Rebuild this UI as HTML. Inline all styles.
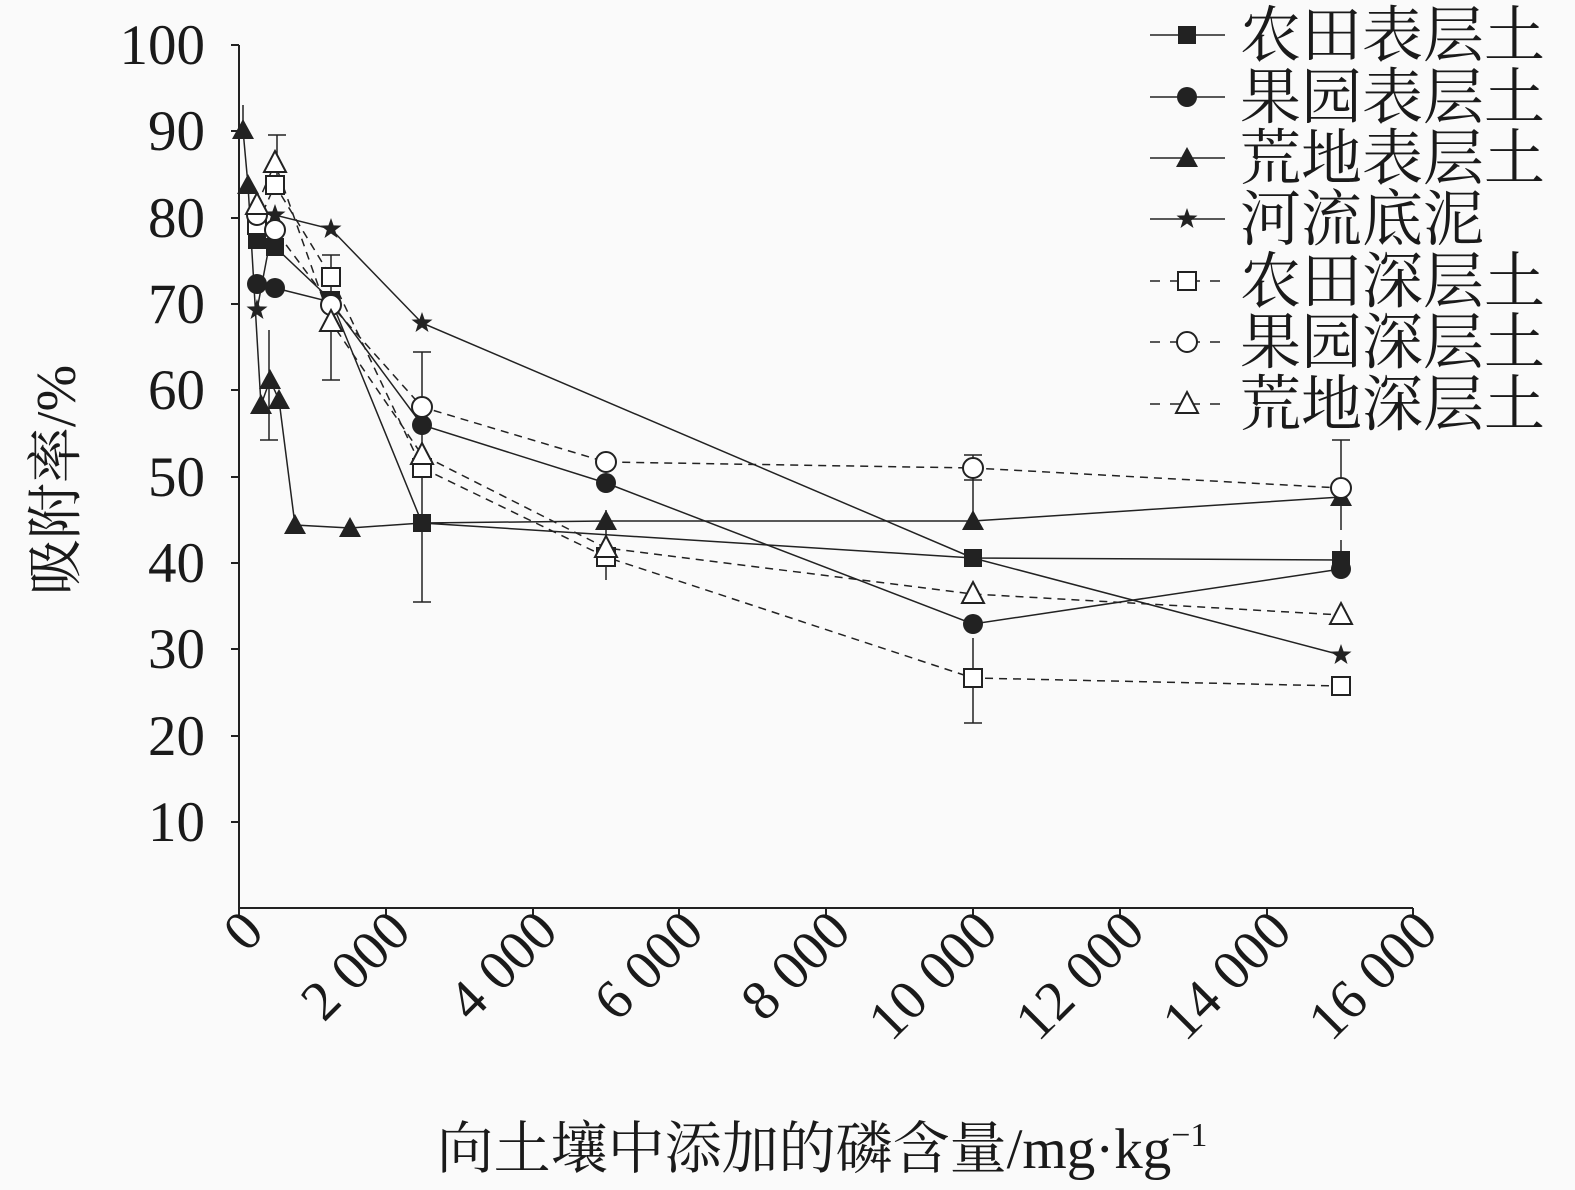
<!DOCTYPE html>
<html><head><meta charset="utf-8"><style>body{margin:0;background:#fafafa}svg{display:block}</style></head><body>
<svg width="1575" height="1190" xmlns="http://www.w3.org/2000/svg" xmlns:xlink="http://www.w3.org/1999/xlink" font-family="Liberation Serif, Noto Serif CJK SC, serif" fill="#1a1a1a">
<defs>
<rect id="fs" x="-9" y="-9" width="18" height="18" fill="#222"/>
<circle id="fc" r="10" fill="#222"/>
<path id="ft" d="M0,-11 L11,9 L-11,9Z" fill="#222"/>
<path id="st" d="M0,-11 L2.6,-3.6 L10.5,-3.4 L4.2,1.4 L6.5,9 L0,4.5 L-6.5,9 L-4.2,1.4 L-10.5,-3.4 L-2.6,-3.6Z" fill="#222"/>
<rect id="os" x="-9" y="-9" width="18" height="18" fill="#fff" stroke="#222" stroke-width="2"/>
<circle id="oc" r="10" fill="#fff" stroke="#222" stroke-width="2"/>
<path id="ot" d="M0,-12 L11,9 L-11,9Z" fill="#fff" stroke="#222" stroke-width="2"/>
</defs>
<g stroke="#222" stroke-width="2" fill="none">
<path d="M239,45 V908 H1413"/>
<path d="M239,45h-8M239,131h-8M239,218h-8M239,304h-8M239,390h-8M239,477h-8M239,563h-8M239,649h-8M239,736h-8M239,822h-8"/>
<path d="M386,908v8M533,908v8M679,908v8M826,908v8M973,908v8M1120,908v8M1267,908v8M1413,908v8M239,908v8"/>
</g>
<g font-size="57" text-anchor="end">
<text x="205" y="64">100</text><text x="205" y="150">90</text><text x="205" y="237">80</text><text x="205" y="323">70</text><text x="205" y="409">60</text><text x="205" y="496">50</text><text x="205" y="582">40</text><text x="205" y="668">30</text><text x="205" y="755">20</text><text x="205" y="841">10</text>
</g>
<g font-size="56" text-anchor="end">
<text transform="translate(266,934) rotate(-45)">0</text>
<text transform="translate(413,934) rotate(-45)">2 000</text>
<text transform="translate(560,934) rotate(-45)">4 000</text>
<text transform="translate(706,934) rotate(-45)">6 000</text>
<text transform="translate(853,934) rotate(-45)">8 000</text>
<text transform="translate(1000,934) rotate(-45)">10 000</text>
<text transform="translate(1147,934) rotate(-45)">12 000</text>
<text transform="translate(1294,934) rotate(-45)">14 000</text>
<text transform="translate(1440,934) rotate(-45)">16 000</text>
</g>
<text transform="translate(75,480) rotate(-90)" font-size="56" text-anchor="middle">吸附率/%</text>
<text x="822" y="1168" font-size="57" text-anchor="middle">向土壤中添加的磷含量/mg·kg<tspan font-size="34" dy="-22">−1</tspan></text>
<g stroke="#222" stroke-width="1.5" fill="none">
<path d="M257,240L275,247L331,300L422,523L973,558L1341,560"/>
<path d="M257,284L275,288L331,302L422,425L606,483L973,624L1341,569"/>
<path d="M243,130L248,185L261,405L270,380L279,400L295,525L350,528L422,523L606,521L973,521L1341,497"/>
<path d="M257,310L275,215L331,229L422,323L973,558L1341,655"/>
<g stroke-dasharray="8,6">
<path d="M257,225L275,185L331,277L422,468L606,557L973,678L1341,686"/>
<path d="M257,215L275,230L331,305L422,407L606,462L973,468L1341,488"/>
<path d="M257,205L275,163L331,322L422,455L606,548L973,594L1341,615"/>
</g>
<path d="M277,135v60M268,135h18M331,255v125M322,255h18M322,380h18M422,352v250M413,352h18M413,602h18M973,638v85M964,723h18M1341,440v90M1332,440h18M1341,540v30M973,455v30M964,455h18M973,480v40M964,480h18M269,330v110M260,440h18M243,105v30M606,510v70"/>
</g>
<g>
<use xlink:href="#fs" x="257" y="240"/><use xlink:href="#fs" x="275" y="247"/><use xlink:href="#fs" x="331" y="300"/><use xlink:href="#fs" x="422" y="523"/><use xlink:href="#fs" x="973" y="558"/><use xlink:href="#fs" x="1341" y="560"/>
<use xlink:href="#fc" x="257" y="284"/><use xlink:href="#fc" x="275" y="288"/><use xlink:href="#fc" x="331" y="302"/><use xlink:href="#fc" x="422" y="425"/><use xlink:href="#fc" x="606" y="483"/><use xlink:href="#fc" x="973" y="624"/><use xlink:href="#fc" x="1341" y="569"/>
<use xlink:href="#ft" x="243" y="130"/><use xlink:href="#ft" x="248" y="185"/><use xlink:href="#ft" x="261" y="405"/><use xlink:href="#ft" x="270" y="380"/><use xlink:href="#ft" x="279" y="400"/><use xlink:href="#ft" x="295" y="525"/><use xlink:href="#ft" x="350" y="528"/><use xlink:href="#ft" x="606" y="521"/><use xlink:href="#ft" x="973" y="521"/><use xlink:href="#ft" x="1341" y="497"/>
<use xlink:href="#st" x="257" y="310"/><use xlink:href="#st" x="275" y="215"/><use xlink:href="#st" x="331" y="229"/><use xlink:href="#st" x="422" y="323"/><use xlink:href="#st" x="1341" y="655"/>
<use xlink:href="#os" x="257" y="225"/><use xlink:href="#os" x="275" y="185"/><use xlink:href="#os" x="331" y="277"/><use xlink:href="#os" x="422" y="468"/><use xlink:href="#os" x="606" y="557"/><use xlink:href="#os" x="973" y="678"/><use xlink:href="#os" x="1341" y="686"/>
<use xlink:href="#oc" x="257" y="215"/><use xlink:href="#oc" x="275" y="230"/><use xlink:href="#oc" x="331" y="305"/><use xlink:href="#oc" x="422" y="407"/><use xlink:href="#oc" x="606" y="462"/><use xlink:href="#oc" x="973" y="468"/><use xlink:href="#oc" x="1341" y="488"/>
<use xlink:href="#ot" x="257" y="205"/><use xlink:href="#ot" x="275" y="163"/><use xlink:href="#ot" x="331" y="322"/><use xlink:href="#ot" x="422" y="455"/><use xlink:href="#ot" x="606" y="548"/><use xlink:href="#ot" x="973" y="594"/><use xlink:href="#ot" x="1341" y="615"/>
<use xlink:href="#fs" x="422" y="523"/>
</g>
<g stroke="#222" stroke-width="1.5">
<path d="M1150,35H1225M1150,97H1225M1150,158H1225M1150,219H1225"/>
<path d="M1150,281H1225M1150,342H1225M1150,404H1225" stroke-dasharray="10,10"/>
</g>
<use xlink:href="#fs" x="1187" y="35"/><use xlink:href="#fc" x="1187" y="97"/><use xlink:href="#ft" x="1187" y="158"/><use xlink:href="#st" x="1187" y="219"/>
<use xlink:href="#os" x="1187" y="281"/><use xlink:href="#oc" x="1187" y="342"/><use xlink:href="#ot" x="1187" y="404"/>
<g font-size="61" font-family="Noto Serif CJK SC, serif">
<text x="1240" y="56">农田表层土</text><text x="1240" y="118">果园表层土</text><text x="1240" y="179">荒地表层土</text><text x="1240" y="240">河流底泥</text><text x="1240" y="302">农田深层土</text><text x="1240" y="363">果园深层土</text><text x="1240" y="425">荒地深层土</text>
</g>
</svg>
</body></html>
